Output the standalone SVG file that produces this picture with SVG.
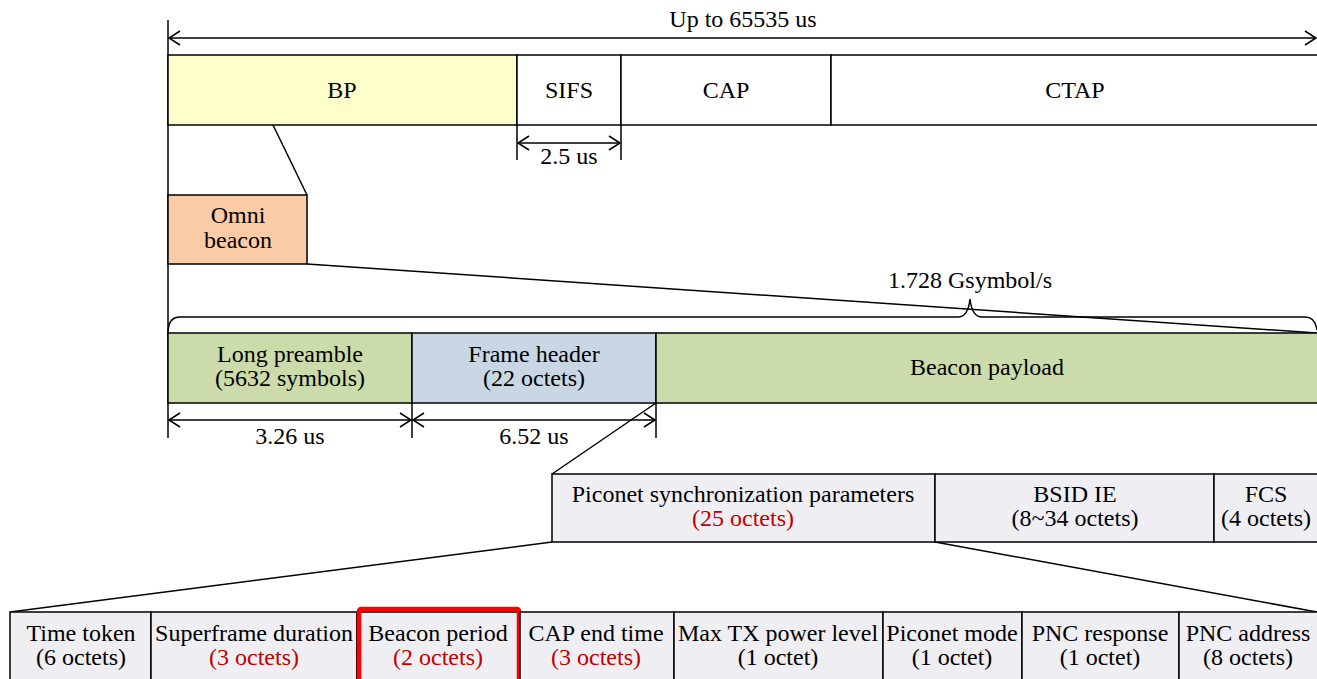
<svg xmlns="http://www.w3.org/2000/svg" width="1317" height="679" viewBox="0 0 1317 679" font-family="'Liberation Serif', 'Times New Roman', Times, serif">
<defs>
<style>
text{font-family:'Liberation Serif','Times New Roman',Times,serif;font-size:24px;fill:#000;text-anchor:middle}
.red{fill:#C00000}
.box{stroke:#000;stroke-width:1.5}
.ln{stroke:#000;stroke-width:1.5;fill:none}
.bp{fill:#FFFFCC}
.om{fill:#FBCBA5}
.gr{fill:#CCDBAA}
.bl{fill:#C9D6E4}
.lv{fill:#EFEEF3}
.wh{fill:#FFFFFF}
</style>
<marker id="ah" viewBox="0 0 13 16" refX="12" refY="8" markerWidth="13" markerHeight="16" markerUnits="userSpaceOnUse" orient="auto-start-reverse">
<path d="M1,1 L12,8 L1,15" fill="none" stroke="#000" stroke-width="1.5"/>
</marker>
</defs>
<rect width="1317" height="679" fill="#fff"/>

<g id="connectors">
<line class="ln" x1="168" y1="20" x2="168" y2="438"/>
<line class="ln" x1="169" y1="38" x2="1316" y2="38" marker-start="url(#ah)" marker-end="url(#ah)"/>
<line class="ln" x1="517" y1="125" x2="517" y2="160"/>
<line class="ln" x1="621" y1="125" x2="621" y2="160"/>
<line class="ln" x1="518" y1="143" x2="620" y2="143" marker-start="url(#ah)" marker-end="url(#ah)"/>
<line class="ln" x1="273" y1="125" x2="307" y2="195"/>
<line class="ln" x1="307" y1="264" x2="1317" y2="333"/>
<path class="ln" d="M168,333 Q168,317 180,317 L958,317 Q968,317 970,299 Q972,317 982,317 L1305,317 Q1315,317 1317,330"/>
<line class="ln" x1="412" y1="403" x2="412" y2="438"/>
<line class="ln" x1="656" y1="403" x2="656" y2="438"/>
<line class="ln" x1="169" y1="420" x2="411" y2="420" marker-start="url(#ah)" marker-end="url(#ah)"/>
<line class="ln" x1="413" y1="420" x2="655" y2="420" marker-start="url(#ah)" marker-end="url(#ah)"/>
<line class="ln" x1="656" y1="403" x2="552" y2="474"/>
<line class="ln" x1="552" y1="542" x2="10" y2="612"/>
<line class="ln" x1="935" y1="542" x2="1317" y2="612"/>
</g>

<text x="743" y="27">Up to 65535 us</text>
<text x="569" y="164">2.5 us</text>
<text x="970" y="288">1.728 Gsymbol/s</text>
<text x="290" y="444">3.26 us</text>
<text x="534" y="444">6.52 us</text>

<g id="bp"><rect class="box bp" x="168" y="55" width="349" height="70"/><text x="342" y="98">BP</text></g>
<g id="sifs"><rect class="box wh" x="517" y="55" width="104" height="70"/><text x="569" y="98">SIFS</text></g>
<g id="cap"><rect class="box wh" x="621" y="55" width="210" height="70"/><text x="726" y="98">CAP</text></g>
<g id="ctap"><rect class="box wh" x="831" y="55" width="495" height="70"/><text x="1075" y="98">CTAP</text></g>

<g id="omni"><rect class="box om" x="168" y="195" width="139" height="69"/><text x="238" y="223">Omni</text><text x="238" y="248">beacon</text></g>

<g id="preamble"><rect class="box gr" x="168" y="333" width="244" height="70"/><text x="290" y="362">Long preamble</text><text x="290" y="386">(5632 symbols)</text></g>
<g id="header"><rect class="box bl" x="412" y="333" width="244" height="70"/><text x="534" y="362">Frame header</text><text x="534" y="386">(22 octets)</text></g>
<g id="payload"><rect class="box gr" x="656" y="333" width="670" height="70"/><text x="987" y="375">Beacon payload</text></g>

<g id="piconet"><rect class="box lv" x="552" y="474" width="383" height="68"/><text x="743" y="502">Piconet synchronization parameters</text><text class="red" x="743" y="526">(25 octets)</text></g>
<g id="bsid"><rect class="box lv" x="935" y="474" width="279" height="68"/><text x="1075" y="502">BSID IE</text><text x="1075" y="526">(8~34 octets)</text></g>
<g id="fcs"><rect class="box lv" x="1214" y="474" width="112" height="68"/><text x="1266" y="502">FCS</text><text x="1266" y="526">(4 octets)</text></g>

<g id="timetoken"><rect class="box lv" x="10" y="612" width="141" height="80"/><text x="81" y="641">Time token</text><text x="81" y="665">(6 octets)</text></g>
<g id="superframe"><rect class="box lv" x="151" y="612" width="206" height="80"/><text x="254" y="641">Superframe duration</text><text class="red" x="254" y="665">(3 octets)</text></g>
<g id="beaconperiod"><rect class="box lv" x="357" y="612" width="163" height="80"/><text x="438" y="641">Beacon period</text><text class="red" x="438" y="665">(2 octets)</text><rect x="359" y="609" width="160" height="80" rx="2" fill="none" stroke="#FF0000" stroke-width="4.5"/></g>
<g id="capend"><rect class="box lv" x="520" y="612" width="154" height="80"/><text x="596" y="641">CAP end time</text><text class="red" x="596" y="665">(3 octets)</text></g>
<g id="maxtx"><rect class="box lv" x="674" y="612" width="209" height="80"/><text x="778" y="641">Max TX power level</text><text x="778" y="665">(1 octet)</text></g>
<g id="piconetmode"><rect class="box lv" x="883" y="612" width="139" height="80"/><text x="952" y="641">Piconet mode</text><text x="952" y="665">(1 octet)</text></g>
<g id="pncresp"><rect class="box lv" x="1022" y="612" width="157" height="80"/><text x="1100" y="641">PNC response</text><text x="1100" y="665">(1 octet)</text></g>
<g id="pncaddr"><rect class="box lv" x="1179" y="612" width="150" height="80"/><text x="1248" y="641">PNC address</text><text x="1248" y="665">(8 octets)</text></g>
</svg>
